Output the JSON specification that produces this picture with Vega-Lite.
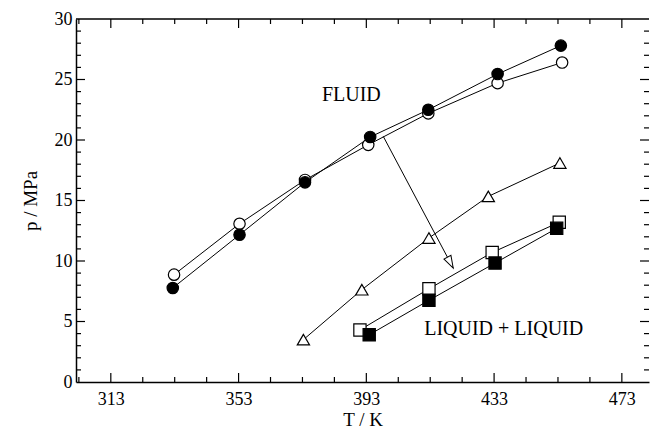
{
  "$schema": "https://vega.github.io/schema/vega-lite/v6.json",
  "width": 573,
  "height": 363,
  "autosize": {"type": "none"},
  "padding": {"left": 76, "top": 19, "right": 1, "bottom": 48},
  "background": "white",
  "config": {
    "view": {"stroke": null},
    "font": "Liberation Serif",
    "axis": {
      "labelFont": "Liberation Serif",
      "titleFont": "Liberation Serif",
      "labelColor": "black",
      "titleColor": "black",
      "domainColor": "black",
      "grid": false,
      "labelFlush": false,
      "labelOverlap": false
    }
  },
  "datasets": {
    "pts": [
      {"series": "open circle", "T": 332.8, "p": 8.87},
      {"series": "open circle", "T": 353.3, "p": 13.08},
      {"series": "open circle", "T": 373.8, "p": 16.7},
      {"series": "open circle", "T": 393.6, "p": 19.6},
      {"series": "open circle", "T": 412.4, "p": 22.2},
      {"series": "open circle", "T": 434.1, "p": 24.7},
      {"series": "open circle", "T": 454.3, "p": 26.4},
      {"series": "filled circle", "T": 332.4, "p": 7.77},
      {"series": "filled circle", "T": 353.3, "p": 12.17},
      {"series": "filled circle", "T": 373.8, "p": 16.5},
      {"series": "filled circle", "T": 394.2, "p": 20.25},
      {"series": "filled circle", "T": 412.4, "p": 22.5},
      {"series": "filled circle", "T": 434.1, "p": 25.45},
      {"series": "filled circle", "T": 453.9, "p": 27.8},
      {"series": "triangle", "T": 373.3, "p": 3.5},
      {"series": "triangle", "T": 391.6, "p": 7.63},
      {"series": "triangle", "T": 412.6, "p": 11.9},
      {"series": "triangle", "T": 431.2, "p": 15.34},
      {"series": "triangle", "T": 453.6, "p": 18.1},
      {"series": "open square", "T": 391.0, "p": 4.3},
      {"series": "open square", "T": 412.6, "p": 7.7},
      {"series": "open square", "T": 432.4, "p": 10.7},
      {"series": "open square", "T": 453.4, "p": 13.2},
      {"series": "filled square", "T": 393.9, "p": 3.9},
      {"series": "filled square", "T": 412.6, "p": 6.75},
      {"series": "filled square", "T": 433.3, "p": 9.83},
      {"series": "filled square", "T": 452.6, "p": 12.7}
    ],
    "arrow": [
      {"pos": "start", "T": 398.3, "p": 20.3},
      {"pos": "end", "T": 420.2, "p": 9.42}
    ],
    "labels": [
      {"label": "FLUID", "T": 388.3, "p": 23.7},
      {"label": "LIQUID + LIQUID", "T": 436.0, "p": 4.39}
    ],
    "xticks": [
      {"T": 303, "kind": "minor"}, {"T": 313, "kind": "major"}, {"T": 323, "kind": "minor"}, {"T": 333, "kind": "minor"},
      {"T": 343, "kind": "minor"}, {"T": 353, "kind": "major"}, {"T": 363, "kind": "minor"}, {"T": 373, "kind": "minor"},
      {"T": 383, "kind": "minor"}, {"T": 393, "kind": "major"}, {"T": 403, "kind": "minor"}, {"T": 413, "kind": "minor"},
      {"T": 423, "kind": "minor"}, {"T": 433, "kind": "major"}, {"T": 443, "kind": "minor"}, {"T": 453, "kind": "minor"},
      {"T": 463, "kind": "minor"}, {"T": 473, "kind": "major"}
    ],
    "yticks": [
      {"p": 1, "kind": "minor"}, {"p": 2, "kind": "minor"}, {"p": 3, "kind": "minor"}, {"p": 4, "kind": "minor"}, {"p": 5, "kind": "major"},
      {"p": 6, "kind": "minor"}, {"p": 7, "kind": "minor"}, {"p": 8, "kind": "minor"}, {"p": 9, "kind": "minor"}, {"p": 10, "kind": "major"},
      {"p": 11, "kind": "minor"}, {"p": 12, "kind": "minor"}, {"p": 13, "kind": "minor"}, {"p": 14, "kind": "minor"}, {"p": 15, "kind": "major"},
      {"p": 16, "kind": "minor"}, {"p": 17, "kind": "minor"}, {"p": 18, "kind": "minor"}, {"p": 19, "kind": "minor"}, {"p": 20, "kind": "major"},
      {"p": 21, "kind": "minor"}, {"p": 22, "kind": "minor"}, {"p": 23, "kind": "minor"}, {"p": 24, "kind": "minor"}, {"p": 25, "kind": "major"},
      {"p": 26, "kind": "minor"}, {"p": 27, "kind": "minor"}, {"p": 28, "kind": "minor"}, {"p": 29, "kind": "minor"}
    ]
  },
  "layer": [
    {
      "data": {"name": "pts"},
      "mark": {"type": "line", "color": "black", "strokeWidth": 1},
      "encoding": {
        "x": {"field": "T", "type": "quantitative", "scale": {"domain": [302.1, 481.5], "nice": false, "zero": false},
          "axis": {"orient": "bottom", "values": [313, 353, 393, 433, 473], "ticks": false, "domain": true, "domainWidth": 1.5,
            "labelFontSize": 18, "labelPadding": 8, "title": "T / K", "titleFontSize": 19, "titleFontWeight": "normal", "titlePadding": 2}},
        "y": {"field": "p", "type": "quantitative", "scale": {"domain": [0, 30], "nice": false, "zero": false},
          "axis": {"orient": "left", "values": [0, 5, 10, 15, 20, 25, 30], "ticks": false, "domain": true, "domainWidth": 1.5,
            "labelFontSize": 18, "labelPadding": 4, "title": "p / MPa", "titleFontSize": 19, "titleFontWeight": "normal", "titlePadding": 14}},
        "detail": {"field": "series", "type": "nominal"}
      }
    },
    {
      "data": {"name": "pts"},
      "transform": [{"filter": {"field": "series", "oneOf": ["open circle", "filled circle"]}}],
      "mark": {"type": "point", "shape": "circle", "size": 130, "stroke": "black", "strokeWidth": 1.2, "opacity": 1, "filled": false},
      "encoding": {
        "x": {"field": "T", "type": "quantitative"},
        "y": {"field": "p", "type": "quantitative"},
        "fill": {"field": "series", "type": "nominal", "legend": null,
          "scale": {"domain": ["open circle", "filled circle", "triangle", "open square", "filled square"], "range": ["white", "black", "white", "white", "black"]}}
      }
    },
    {
      "data": {"name": "pts"},
      "transform": [{"filter": {"field": "series", "equal": "triangle"}}],
      "mark": {"type": "point", "shape": "triangle-up", "size": 150, "stroke": "black", "strokeWidth": 1.2, "fill": "white", "opacity": 1, "filled": false},
      "encoding": {
        "x": {"field": "T", "type": "quantitative"},
        "y": {"field": "p", "type": "quantitative"}
      }
    },
    {
      "data": {"name": "pts"},
      "transform": [{"filter": {"field": "series", "oneOf": ["open square", "filled square"]}}],
      "mark": {"type": "point", "shape": "square", "size": 150, "stroke": "black", "strokeWidth": 1.2, "opacity": 1, "filled": false},
      "encoding": {
        "x": {"field": "T", "type": "quantitative"},
        "y": {"field": "p", "type": "quantitative"},
        "fill": {"field": "series", "type": "nominal", "legend": null,
          "scale": {"domain": ["open circle", "filled circle", "triangle", "open square", "filled square"], "range": ["white", "black", "white", "white", "black"]}}
      }
    },
    {
      "data": {"name": "arrow"},
      "mark": {"type": "line", "color": "black", "strokeWidth": 1},
      "encoding": {
        "x": {"field": "T", "type": "quantitative"},
        "y": {"field": "p", "type": "quantitative"}
      }
    },
    {
      "data": {"name": "arrow"},
      "transform": [{"filter": {"field": "pos", "equal": "end"}}],
      "mark": {"type": "point", "shape": "M-0.32,-1L0,0L0.32,-1Z", "size": 600, "angle": 332, "stroke": "black", "strokeWidth": 1, "fill": "white", "opacity": 1, "filled": false},
      "encoding": {
        "x": {"field": "T", "type": "quantitative"},
        "y": {"field": "p", "type": "quantitative"}
      }
    },
    {
      "data": {"name": "labels"},
      "mark": {"type": "text", "font": "Liberation Serif", "fontSize": 20, "color": "black", "align": "center", "baseline": "middle"},
      "encoding": {
        "x": {"field": "T", "type": "quantitative"},
        "y": {"field": "p", "type": "quantitative"},
        "text": {"field": "label", "type": "nominal"}
      }
    },
    {
      "data": {"name": "xticks"},
      "transform": [{"filter": {"field": "kind", "equal": "major"}}],
      "mark": {"type": "tick", "orient": "vertical", "size": 9, "thickness": 1.2, "color": "black", "opacity": 1, "yOffset": -4.5},
      "encoding": {"x": {"field": "T", "type": "quantitative"}, "y": {"datum": 0}}
    },
    {
      "data": {"name": "xticks"},
      "transform": [{"filter": {"field": "kind", "equal": "minor"}}],
      "mark": {"type": "tick", "orient": "vertical", "size": 5, "thickness": 1.2, "color": "black", "opacity": 1, "yOffset": -2.5},
      "encoding": {"x": {"field": "T", "type": "quantitative"}, "y": {"datum": 0}}
    },
    {
      "data": {"name": "xticks"},
      "transform": [{"filter": {"field": "kind", "equal": "major"}}],
      "mark": {"type": "tick", "orient": "vertical", "size": 9, "thickness": 1.2, "color": "black", "opacity": 1, "yOffset": 4.5},
      "encoding": {"x": {"field": "T", "type": "quantitative"}, "y": {"datum": 30}}
    },
    {
      "data": {"name": "xticks"},
      "transform": [{"filter": {"field": "kind", "equal": "minor"}}],
      "mark": {"type": "tick", "orient": "vertical", "size": 5, "thickness": 1.2, "color": "black", "opacity": 1, "yOffset": 2.5},
      "encoding": {"x": {"field": "T", "type": "quantitative"}, "y": {"datum": 30}}
    },
    {
      "data": {"name": "yticks"},
      "transform": [{"filter": {"field": "kind", "equal": "major"}}],
      "mark": {"type": "tick", "orient": "horizontal", "size": 9, "thickness": 1.2, "color": "black", "opacity": 1, "xOffset": 4.5},
      "encoding": {"y": {"field": "p", "type": "quantitative"}, "x": {"datum": 302.1}}
    },
    {
      "data": {"name": "yticks"},
      "transform": [{"filter": {"field": "kind", "equal": "minor"}}],
      "mark": {"type": "tick", "orient": "horizontal", "size": 5, "thickness": 1.2, "color": "black", "opacity": 1, "xOffset": 2.5},
      "encoding": {"y": {"field": "p", "type": "quantitative"}, "x": {"datum": 302.1}}
    },
    {
      "data": {"name": "yticks"},
      "transform": [{"filter": {"field": "kind", "equal": "major"}}],
      "mark": {"type": "tick", "orient": "horizontal", "size": 9, "thickness": 1.2, "color": "black", "opacity": 1, "xOffset": -4.5},
      "encoding": {"y": {"field": "p", "type": "quantitative"}, "x": {"datum": 481.5}}
    },
    {
      "data": {"name": "yticks"},
      "transform": [{"filter": {"field": "kind", "equal": "minor"}}],
      "mark": {"type": "tick", "orient": "horizontal", "size": 5, "thickness": 1.2, "color": "black", "opacity": 1, "xOffset": -2.5},
      "encoding": {"y": {"field": "p", "type": "quantitative"}, "x": {"datum": 481.5}}
    },
    {
      "data": {"values": [{}]},
      "mark": {"type": "rule", "color": "black", "strokeWidth": 1.5},
      "encoding": {"x": {"datum": 302.1}, "x2": {"datum": 481.5}, "y": {"datum": 30}}
    }
  ]
}
